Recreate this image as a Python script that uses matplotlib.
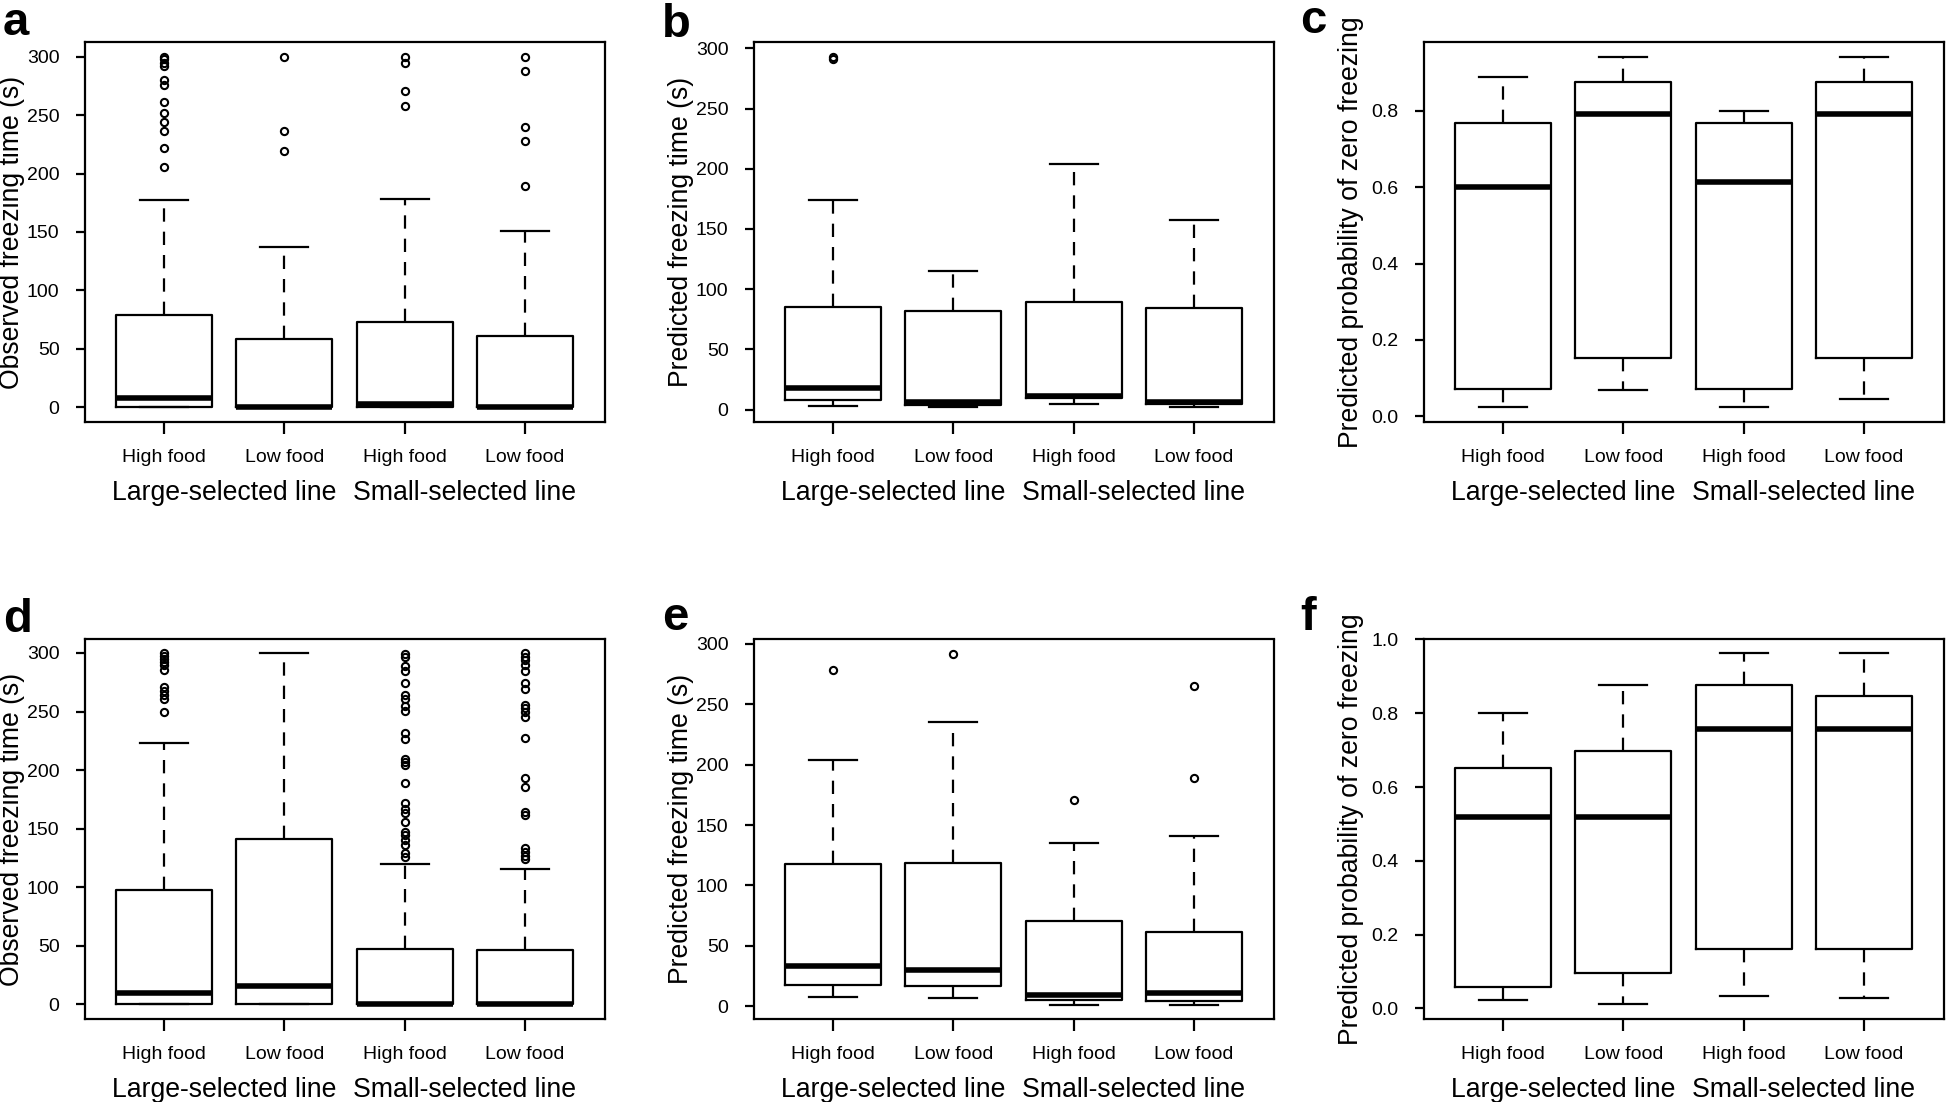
import matplotlib
matplotlib.use("Agg")
import matplotlib.pyplot as plt

plt.rcParams['font.family'] = ['Liberation Sans', 'DejaVu Sans']

# ---------------- data ----------------
food_labels = ["High food", "Low food", "High food", "Low food"]
line_labels = ["Large-selected line", "Small-selected line"]

# Panel a: observed freezing time (s)
a_whislo = [0, 0, 0, 0]
a_q1 = [0, 0, 0, 0]
a_med = [8, 0, 3, 0]
a_q3 = [79, 58, 73, 61]
a_whishi = [177, 137, 178, 151]
a_fliers = [[300, 298, 295, 292, 280, 276, 261, 252, 244, 236, 222, 206],
            [300, 236, 219],
            [300, 295, 271, 258],
            [300, 288, 240, 228, 189]]

# Panel b: predicted freezing time (s)
b_whislo = [3.3, 2.0, 5.0, 2.0]
b_q1 = [8.3, 3.9, 9.4, 4.4]
b_med = [17.8, 6.0, 11.4, 6.0]
b_q3 = [85.3, 82.2, 89.1, 84.4]
b_whishi = [173.8, 114.9, 203.7, 157.5]
b_fliers = [[293, 291], [], [], []]

# Panel c: predicted probability of zero freezing
c_whislo = [0.024, 0.069, 0.024, 0.044]
c_q1 = [0.072, 0.153, 0.072, 0.153]
c_med = [0.600, 0.793, 0.614, 0.793]
c_q3 = [0.768, 0.877, 0.768, 0.877]
c_whishi = [0.890, 0.942, 0.801, 0.942]
c_fliers = [[], [], [], []]

# Panel d: observed freezing time (s)
d_whislo = [0, 0, 0, 0]
d_q1 = [0, 0, 0, 0]
d_med = [10, 15.7, 0, 0]
d_q3 = [97.7, 141, 47.6, 46.7]
d_whishi = [222.8, 300, 120, 115.1]
d_fliers = [[300, 297.4, 294.9, 292.3, 289.5, 285.5, 271.2, 267.5, 263.8, 260.4, 249.9],
            [],
            [299.1, 296.9, 288.9, 284.9, 274.6, 263.8, 261.0, 255.0, 250.7, 231.3,
             226.2, 209.4, 206.6, 204.3, 189.2, 172.1, 167.0, 163.0, 155.3, 147.0,
             144.2, 139.9, 135.9, 129.3, 125.4],
            [300, 296.9, 294.0, 290.0, 284.9, 274.6, 269.5, 255.8, 252.7, 249.6,
             245.6, 227.1, 193.2, 185.2, 164.1, 161.3, 133.3, 129.9, 126.5, 124.2]]

# Panel e: predicted freezing time (s)
e_whislo = [7.7, 7.2, 1.4, 1.4]
e_q1 = [17.7, 16.6, 5.0, 4.5]
e_med = [33.1, 30.1, 9.7, 11.1]
e_q3 = [118.1, 118.7, 70.7, 61.6]
e_whishi = [204.2, 235.7, 135.5, 140.8]
e_fliers = [[278.5], [291.7], [171.1], [265.5, 189.3]]

# Panel f: predicted probability of zero freezing
f_whislo = [0.022, 0.012, 0.035, 0.029]
f_q1 = [0.058, 0.096, 0.162, 0.162]
f_med = [0.519, 0.519, 0.757, 0.757]
f_q3 = [0.652, 0.699, 0.877, 0.848]
f_whishi = [0.800, 0.878, 0.963, 0.963]
f_fliers = [[], [], [], []]

ylab_obs = "Observed freezing time (s)"
ylab_pred = "Predicted freezing time (s)"
ylab_prob = "Predicted probability of zero freezing"

# ---------------- figure ----------------
W, H = 1946, 1102
fig = plt.figure(figsize=(W / 100, H / 100), dpi=100)

LW = 1.6


def make_axes(left, top, width, height):
    return fig.add_axes([left / W, 1 - (top + height) / H, width / W, height / H])


def draw_panel(ax, lo, q1, med, q3, hi, fl, ylabel, ylim, yticks, yfmt):
    stats = []
    for i in range(4):
        stats.append(dict(whislo=lo[i], q1=q1[i], med=med[i], q3=q3[i],
                          whishi=hi[i], fliers=fl[i]))
    ax.bxp(stats, positions=[1, 2, 3, 4], widths=0.8, capwidths=0.4,
           manage_ticks=False,
           boxprops=dict(color='black', lw=LW),
           whiskerprops=dict(color='black', lw=LW, linestyle=(0, (6, 4.5))),
           capprops=dict(color='black', lw=LW),
           medianprops=dict(color='black', lw=4.0, solid_capstyle='butt'),
           flierprops=dict(marker='o', markerfacecolor='none', markeredgecolor='black',
                           markersize=5.2, markeredgewidth=1.5, linestyle='none'))
    ax.set_xlim(0.34, 4.66)
    ax.set_ylim(*ylim)
    ax.set_xticks([1, 2, 3, 4])
    ax.set_xticklabels(food_labels)
    ax.set_yticks(yticks)
    ax.set_yticklabels([yfmt.format(v) for v in yticks])
    ax.tick_params(axis='x', length=8.4, width=LW, pad=11.5, labelsize=14)
    ax.tick_params(axis='y', length=6.5, width=LW, pad=11.5, labelsize=14)
    for s in ax.spines.values():
        s.set_linewidth(LW)
    ax.set_ylabel(ylabel, fontsize=19.2)
    ax.yaxis.label.set_verticalalignment('center')
    ax.yaxis.set_label_coords(-72 / 520, 0.5)
    for k, name in enumerate(line_labels):
        ax.annotate(name, xy=(1.5 + 2 * k, 0), xycoords=('data', 'axes fraction'),
                    xytext=(0, -51.5), textcoords='offset points',
                    ha='center', va='center', fontsize=19.2)


lefts = [84.5, 753.5, 1423.5]
pw = 520
tops = [42.3, 639.5]
ph = 379.3

t300 = [0, 50, 100, 150, 200, 250, 300]
panels = [
    ("a", 0, 0, (a_whislo, a_q1, a_med, a_q3, a_whishi, a_fliers), ylab_obs, (-12.3, 312.3), t300, "{:.0f}"),
    ("b", 0, 1, (b_whislo, b_q1, b_med, b_q3, b_whishi, b_fliers), ylab_pred, (-10.0, 305.0), t300, "{:.0f}"),
    ("c", 0, 2, (c_whislo, c_q1, c_med, c_q3, c_whishi, c_fliers), ylab_prob, (-0.0142, 0.980), [0, 0.2, 0.4, 0.6, 0.8], "{:.1f}"),
    ("d", 1, 0, (d_whislo, d_q1, d_med, d_q3, d_whishi, d_fliers), ylab_obs, (-12.4, 311.5), t300, "{:.0f}"),
    ("e", 1, 1, (e_whislo, e_q1, e_med, e_q3, e_whishi, e_fliers), ylab_pred, (-10.4, 303.6), t300, "{:.0f}"),
    ("f", 1, 2, (f_whislo, f_q1, f_med, f_q3, f_whishi, f_fliers), ylab_prob, (-0.028, 1.0), [0, 0.2, 0.4, 0.6, 0.8, 1.0], "{:.1f}"),
]

letter_pos = {"a": (3, 35), "b": (662, 37), "c": (1300, 33),
              "d": (3, 632), "e": (662, 630), "f": (1300, 630)}

for letter, r, c, data, ylabel, ylim, yt, fmt in panels:
    ax = make_axes(lefts[c], tops[r], pw, ph)
    draw_panel(ax, *data, ylabel, ylim, yt, fmt)
    lx, ly = letter_pos[letter]
    fig.text(lx / W, 1 - ly / H, letter, fontsize=34, fontweight='bold',
             ha='left', va='baseline')

fig.savefig("out.png", dpi=100, facecolor='white')
